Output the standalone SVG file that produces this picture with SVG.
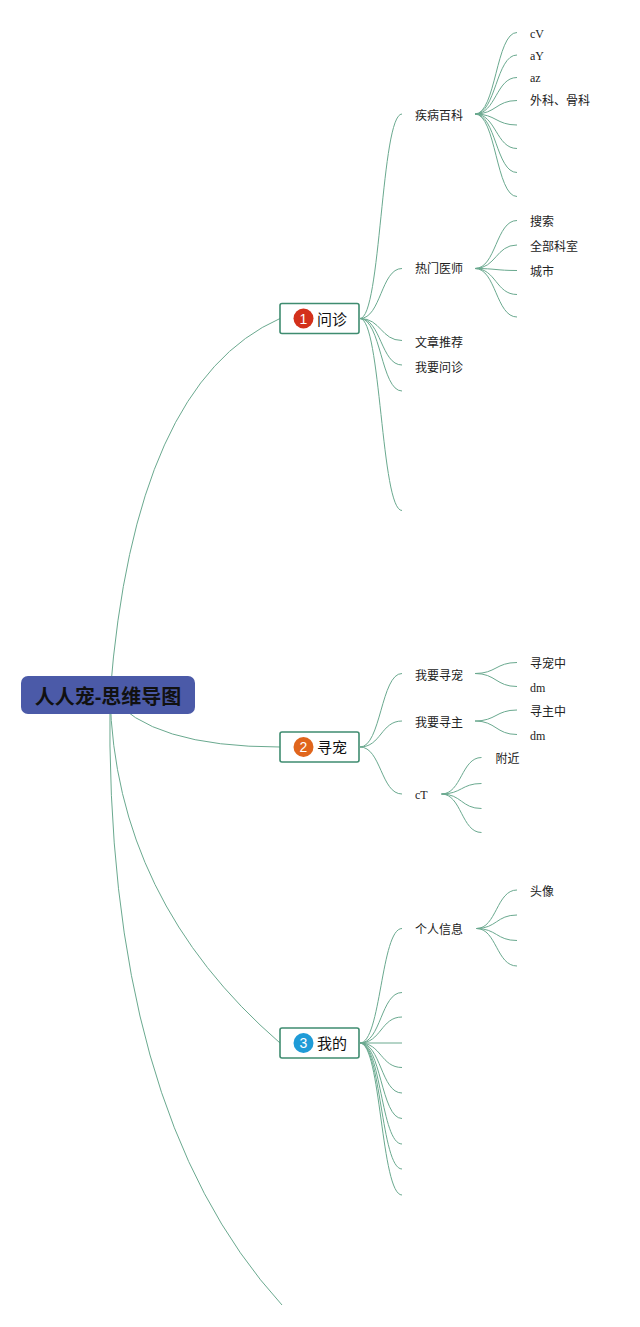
<svg xmlns="http://www.w3.org/2000/svg" width="640" height="1327" viewBox="0 0 640 1327">
<style>
.c{fill:none;stroke:#6aa98f;stroke-width:1}
.br{fill:#fff;stroke:#3f8c70;stroke-width:1.6}
.bt{font-family:'Liberation Sans','Noto Sans CJK SC',sans-serif;font-size:15px;fill:#111;dominant-baseline:central}
.bn{font-family:'Liberation Sans',sans-serif;font-size:14px;fill:#fff;text-anchor:middle;dominant-baseline:central}
.t{font-family:'Liberation Serif','Noto Sans CJK SC',serif;font-size:12px;fill:#222;dominant-baseline:central}
</style>
<rect width="640" height="1327" fill="#fff"/>
<g id="connectors">
<path class="c" d="M110,695 Q134,383 280,318.5"/>
<path class="c" d="M110,695 Q150,747 280,747"/>
<path class="c" d="M110,695 Q115,900 280,1043"/>
<path class="c" d="M110,695 Q104,1110 282,1305"/>
<path class="c" d="M360,318.5 C381,318.5 381,114 402,114"/>
<path class="c" d="M360,318.5 C381,318.5 381,268.5 402,268.5"/>
<path class="c" d="M360,318.5 C381,318.5 381,340.5 402,340.5"/>
<path class="c" d="M360,318.5 C381,318.5 381,365 402,365"/>
<path class="c" d="M360,318.5 C381,318.5 381,391 402,391"/>
<path class="c" d="M360,318.5 C381,318.5 381,510.5 402,510.5"/>
<path class="c" d="M475,114 C496,114 496,32.5 517,32.5"/>
<path class="c" d="M475,114 C496,114 496,55 517,55"/>
<path class="c" d="M475,114 C496,114 496,77.5 517,77.5"/>
<path class="c" d="M475,114 C496,114 496,100.5 517,100.5"/>
<path class="c" d="M475,114 C496,114 496,125 517,125"/>
<path class="c" d="M475,114 C496,114 496,148.5 517,148.5"/>
<path class="c" d="M475,114 C496,114 496,172.5 517,172.5"/>
<path class="c" d="M475,114 C496,114 496,196.5 517,196.5"/>
<path class="c" d="M475,268.5 C496,268.5 496,220.5 517,220.5"/>
<path class="c" d="M475,268.5 C496,268.5 496,245 517,245"/>
<path class="c" d="M475,268.5 C496,268.5 496,270.5 517,270.5"/>
<path class="c" d="M475,268.5 C496,268.5 496,294.5 517,294.5"/>
<path class="c" d="M475,268.5 C496,268.5 496,317 517,317"/>
<path class="c" d="M360,747 C381,747 381,673.5 402,673.5"/>
<path class="c" d="M360,747 C381,747 381,721 402,721"/>
<path class="c" d="M360,747 C381,747 381,794 402,794"/>
<path class="c" d="M475,673.5 C496,673.5 496,662.5 517,662.5"/>
<path class="c" d="M475,673.5 C496,673.5 496,686.5 517,686.5"/>
<path class="c" d="M475,721 C496,721 496,710 517,710"/>
<path class="c" d="M475,721 C496,721 496,734.5 517,734.5"/>
<path class="c" d="M441.5,794 C461.5,794 461.5,757.5 481.5,757.5"/>
<path class="c" d="M441.5,794 C461.5,794 461.5,783.5 481.5,783.5"/>
<path class="c" d="M441.5,794 C461.5,794 461.5,808.5 481.5,808.5"/>
<path class="c" d="M441.5,794 C461.5,794 461.5,832.5 481.5,832.5"/>
<path class="c" d="M360,1043 C381,1043 381,928.5 402,928.5"/>
<path class="c" d="M360,1043 C381,1043 381,992.5 402,992.5"/>
<path class="c" d="M360,1043 C381,1043 381,1017 402,1017"/>
<path class="c" d="M360,1043 L402,1043"/>
<path class="c" d="M360,1043 C381,1043 381,1067.5 402,1067.5"/>
<path class="c" d="M360,1043 C381,1043 381,1093 402,1093"/>
<path class="c" d="M360,1043 C381,1043 381,1118.5 402,1118.5"/>
<path class="c" d="M360,1043 C381,1043 381,1144 402,1144"/>
<path class="c" d="M360,1043 C381,1043 381,1169 402,1169"/>
<path class="c" d="M360,1043 C381,1043 381,1195 402,1195"/>
<path class="c" d="M476.5,928.5 C496.5,928.5 496.5,890 517,890"/>
<path class="c" d="M476.5,928.5 C496.5,928.5 496.5,915 517,915"/>
<path class="c" d="M476.5,928.5 C496.5,928.5 496.5,940.5 517,940.5"/>
<path class="c" d="M476.5,928.5 C496.5,928.5 496.5,966 517,966"/>
</g>
<g id="root">
<rect x="21" y="676" width="174" height="38" rx="7" fill="#4b5aa8"/>
<text x="108" y="697" text-anchor="middle" font-family="'Liberation Sans','Noto Sans CJK SC',sans-serif" font-size="20" font-weight="bold" fill="#111" dominant-baseline="central">人人宠-思维导图</text>
</g>
<g id="n-wenzhen">
<rect class="br" x="280" y="303.5" width="79" height="30" rx="2"/>
<circle cx="303.5" cy="318.5" r="10" fill="#d3301b"/>
<text class="bn" x="303.5" y="318.5">1</text>
<text class="bt" x="317" y="319">问诊</text>
</g>
<g id="n-xunchong">
<rect class="br" x="280" y="732" width="79" height="30" rx="2"/>
<circle cx="303.5" cy="747" r="10" fill="#e0651c"/>
<text class="bn" x="303.5" y="747">2</text>
<text class="bt" x="317" y="747.5">寻宠</text>
</g>
<g id="n-wode">
<rect class="br" x="280" y="1028" width="79" height="30" rx="2"/>
<circle cx="303.5" cy="1043" r="10" fill="#1f9bd7"/>
<text class="bn" x="303.5" y="1043">3</text>
<text class="bt" x="317" y="1043.5">我的</text>
</g>
<g id="leaves">
<g id="n-jibing"><text class="t" x="415" y="116">疾病百科</text></g>
<g id="n-cV"><text class="t" x="530" y="33.5">cV</text></g>
<g id="n-aY"><text class="t" x="530" y="55.5">aY</text></g>
<g id="n-az"><text class="t" x="530" y="77.5">az</text></g>
<g id="n-waike"><text class="t" x="530" y="101">外科、骨科</text></g>
<g id="n-remen"><text class="t" x="415" y="269">热门医师</text></g>
<g id="n-sousuo"><text class="t" x="530" y="222">搜索</text></g>
<g id="n-quanbu"><text class="t" x="530" y="247">全部科室</text></g>
<g id="n-chengshi"><text class="t" x="530" y="272">城市</text></g>
<g id="n-wenzhang"><text class="t" x="415" y="342.5">文章推荐</text></g>
<g id="n-woyaowen"><text class="t" x="415" y="367.5">我要问诊</text></g>
<g id="n-woyaoxunchong"><text class="t" x="415" y="675.5">我要寻宠</text></g>
<g id="n-xunchongzhong"><text class="t" x="530" y="664">寻宠中</text></g>
<g id="n-dm1"><text class="t" x="530" y="688">dm</text></g>
<g id="n-woyaoxunzhu"><text class="t" x="415" y="723">我要寻主</text></g>
<g id="n-xunzhuzhong"><text class="t" x="530" y="712">寻主中</text></g>
<g id="n-dm2"><text class="t" x="530" y="735.5">dm</text></g>
<g id="n-cT"><text class="t" x="415" y="795">cT</text></g>
<g id="n-fujin"><text class="t" x="495.5" y="759">附近</text></g>
<g id="n-geren"><text class="t" x="415" y="929.5">个人信息</text></g>
<g id="n-touxiang"><text class="t" x="530" y="891.5">头像</text></g>
</g>
</svg>
